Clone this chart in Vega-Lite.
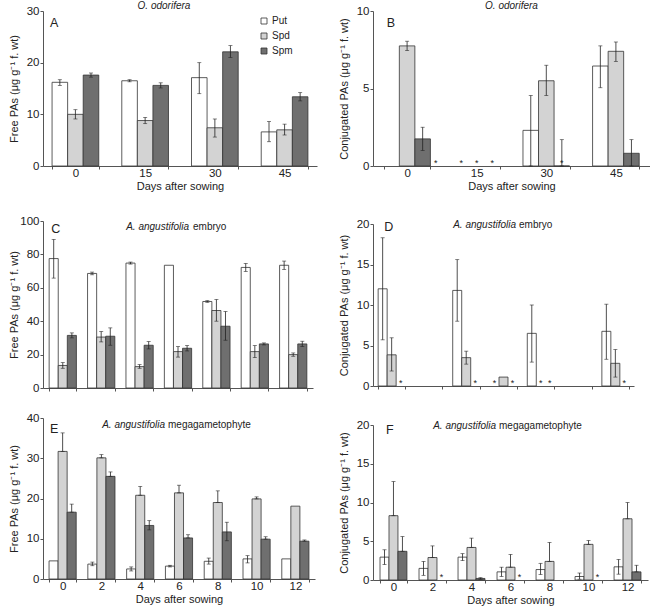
{
  "$schema": "https://vega.github.io/schema/vega-lite/v6.json",
  "padding": {"left": 8, "top": 1, "right": 0, "bottom": 0},
  "background": "white",
  "config": {
    "font": "Liberation Sans",
    "view": {"stroke": null},
    "axis": {"grid": false, "labelFontSize": 11.5, "titleFontSize": 11, "titleFontWeight": "normal", "labelColor": "#222", "titleColor": "#222", "domainColor": "#555", "tickColor": "#555", "tickSize": 3, "labelPadding": 1},
    "axisX": {"labelAngle": 0, "tickBand": "extent", "titlePadding": 2, "labelPadding": -2},
    "axisY": {"minExtent": 22, "maxExtent": 22, "titlePadding": 2},
    "text": {"color": "#222"},
    "title": {"fontSize": 10, "fontStyle": "italic", "fontWeight": "normal", "color": "#222", "frame": "group", "anchor": "middle"},
    "bar": {"stroke": "#333", "strokeWidth": 0.8},
    "rule": {"color": "#222", "strokeWidth": 0.8},
    "tick": {"color": "#222", "thickness": 0.8, "size": 4}
  },
  "datasets": {
    "A": [
      {"day": 0, "series": "Put", "value": 16.2, "lo": 15.6, "hi": 16.7},
      {"day": 0, "series": "Spd", "value": 10.0, "lo": 9.1, "hi": 10.9},
      {"day": 0, "series": "Spm", "value": 17.6, "lo": 17.2, "hi": 18.0},
      {"day": 15, "series": "Put", "value": 16.5, "lo": 16.3, "hi": 16.7},
      {"day": 15, "series": "Spd", "value": 8.8, "lo": 8.2, "hi": 9.4},
      {"day": 15, "series": "Spm", "value": 15.6, "lo": 15.1, "hi": 16.1},
      {"day": 30, "series": "Put", "value": 17.1, "lo": 14.0, "hi": 20.0},
      {"day": 30, "series": "Spd", "value": 7.4, "lo": 5.6, "hi": 9.1},
      {"day": 30, "series": "Spm", "value": 22.1, "lo": 21.0, "hi": 23.3},
      {"day": 45, "series": "Put", "value": 6.6, "lo": 4.7, "hi": 8.6},
      {"day": 45, "series": "Spd", "value": 7.0, "lo": 6.0, "hi": 8.1},
      {"day": 45, "series": "Spm", "value": 13.4, "lo": 12.6, "hi": 14.2}
    ],
    "B": [
      {"day": 0, "series": "Spd", "value": 7.75, "lo": 7.45, "hi": 8.05},
      {"day": 0, "series": "Spm", "value": 1.75, "lo": 1.0, "hi": 2.5},
      {"day": 30, "series": "Put", "value": 2.3, "lo": 0, "hi": 4.55},
      {"day": 30, "series": "Spd", "value": 5.5, "lo": 4.55, "hi": 6.5},
      {"day": 30, "series": "Spm", "value": 0, "lo": 0, "hi": 1.7},
      {"day": 45, "series": "Put", "value": 6.45, "lo": 5.05, "hi": 7.75},
      {"day": 45, "series": "Spd", "value": 7.4, "lo": 6.75, "hi": 8.0},
      {"day": 45, "series": "Spm", "value": 0.82, "lo": 0, "hi": 1.7}
    ],
    "Bstar": [
      {"day": 15, "series": "Put"},
      {"day": 15, "series": "Spd"},
      {"day": 15, "series": "Spm"},
      {"day": 30, "series": "Spm"}
    ],
    "Bstar2": [
      {"day": 0, "series": "Spm"}
    ],
    "C": [
      {"day": 0, "series": "Put", "value": 77.5, "lo": 65.8, "hi": 89.0},
      {"day": 0, "series": "Spd", "value": 13.5, "lo": 11.8, "hi": 15.2},
      {"day": 0, "series": "Spm", "value": 31.5, "lo": 30.0, "hi": 33.0},
      {"day": 2, "series": "Put", "value": 68.6, "lo": 67.8, "hi": 69.4},
      {"day": 2, "series": "Spd", "value": 30.5, "lo": 27.6, "hi": 33.8},
      {"day": 2, "series": "Spm", "value": 31.0, "lo": 25.6, "hi": 36.0},
      {"day": 4, "series": "Put", "value": 74.8, "lo": 74.2, "hi": 75.4},
      {"day": 4, "series": "Spd", "value": 12.8, "lo": 11.8, "hi": 14.0},
      {"day": 4, "series": "Spm", "value": 25.6, "lo": 23.4, "hi": 27.8},
      {"day": 6, "series": "Put", "value": 73.5},
      {"day": 6, "series": "Spd", "value": 21.8, "lo": 18.5, "hi": 24.8},
      {"day": 6, "series": "Spm", "value": 23.8, "lo": 22.2, "hi": 25.4},
      {"day": 8, "series": "Put", "value": 51.8, "lo": 51.3, "hi": 52.3},
      {"day": 8, "series": "Spd", "value": 46.4, "lo": 40.0, "hi": 53.0},
      {"day": 8, "series": "Spm", "value": 37.0, "lo": 28.6, "hi": 45.8},
      {"day": 10, "series": "Put", "value": 72.2, "lo": 69.8, "hi": 74.6},
      {"day": 10, "series": "Spd", "value": 21.8, "lo": 18.2, "hi": 25.4},
      {"day": 10, "series": "Spm", "value": 26.4, "lo": 25.8, "hi": 27.0},
      {"day": 12, "series": "Put", "value": 73.5, "lo": 71.0, "hi": 76.0},
      {"day": 12, "series": "Spd", "value": 20.0, "lo": 19.0, "hi": 21.0},
      {"day": 12, "series": "Spm", "value": 26.4, "lo": 24.8, "hi": 28.0}
    ],
    "D": [
      {"day": 0, "series": "Put", "value": 12.0, "lo": 5.7, "hi": 18.3},
      {"day": 0, "series": "Spd", "value": 3.85, "lo": 1.85, "hi": 5.95},
      {"day": 4, "series": "Put", "value": 11.8, "lo": 8.0, "hi": 15.6},
      {"day": 4, "series": "Spd", "value": 3.5, "lo": 2.7, "hi": 4.3},
      {"day": 6, "series": "Spd", "value": 1.1},
      {"day": 8, "series": "Put", "value": 6.5, "lo": 2.95, "hi": 10.0},
      {"day": 12, "series": "Put", "value": 6.75, "lo": 3.3, "hi": 10.1},
      {"day": 12, "series": "Spd", "value": 2.8, "lo": 1.1, "hi": 4.5}
    ],
    "Dstar": [
      {"day": 0, "series": "Spm"},
      {"day": 4, "series": "Spm"},
      {"day": 6, "series": "Put"},
      {"day": 6, "series": "Spm"},
      {"day": 8, "series": "Spd"},
      {"day": 8, "series": "Spm"},
      {"day": 12, "series": "Spm"}
    ],
    "E": [
      {"day": 0, "series": "Put", "value": 4.5},
      {"day": 0, "series": "Spd", "value": 31.7, "lo": 31.7, "hi": 36.3},
      {"day": 0, "series": "Spm", "value": 16.6, "lo": 16.6, "hi": 18.6},
      {"day": 2, "series": "Put", "value": 3.7, "lo": 3.3, "hi": 4.2},
      {"day": 2, "series": "Spd", "value": 30.1, "lo": 30.1, "hi": 30.9},
      {"day": 2, "series": "Spm", "value": 25.5, "lo": 25.5, "hi": 26.6},
      {"day": 4, "series": "Put", "value": 2.5, "lo": 2.0, "hi": 3.0},
      {"day": 4, "series": "Spd", "value": 20.8, "lo": 20.8, "hi": 23.0},
      {"day": 4, "series": "Spm", "value": 13.3, "lo": 12.2, "hi": 14.5},
      {"day": 6, "series": "Put", "value": 3.2, "lo": 3.0, "hi": 3.4},
      {"day": 6, "series": "Spd", "value": 21.4, "lo": 21.4, "hi": 23.3},
      {"day": 6, "series": "Spm", "value": 10.2, "lo": 10.2, "hi": 11.0},
      {"day": 8, "series": "Put", "value": 4.4, "lo": 3.7, "hi": 5.2},
      {"day": 8, "series": "Spd", "value": 19.0, "lo": 19.0, "hi": 21.9},
      {"day": 8, "series": "Spm", "value": 11.7, "lo": 9.5, "hi": 14.1},
      {"day": 10, "series": "Put", "value": 5.0, "lo": 4.0, "hi": 5.8},
      {"day": 10, "series": "Spd", "value": 19.9, "lo": 19.9, "hi": 20.4},
      {"day": 10, "series": "Spm", "value": 9.9, "lo": 9.9, "hi": 10.5},
      {"day": 12, "series": "Put", "value": 5.0},
      {"day": 12, "series": "Spd", "value": 18.1},
      {"day": 12, "series": "Spm", "value": 9.4, "lo": 9.4, "hi": 9.7}
    ],
    "F": [
      {"day": 0, "series": "Put", "value": 2.95, "lo": 2.0, "hi": 3.9},
      {"day": 0, "series": "Spd", "value": 8.3, "lo": 8.3, "hi": 12.7},
      {"day": 0, "series": "Spm", "value": 3.7, "lo": 3.7, "hi": 5.6},
      {"day": 2, "series": "Put", "value": 1.5, "lo": 0.6, "hi": 2.4},
      {"day": 2, "series": "Spd", "value": 2.9, "lo": 2.9, "hi": 4.4},
      {"day": 4, "series": "Put", "value": 2.95, "lo": 2.5, "hi": 3.4},
      {"day": 4, "series": "Spd", "value": 4.2, "lo": 4.2, "hi": 5.4},
      {"day": 4, "series": "Spm", "value": 0.2, "lo": 0.1, "hi": 0.3},
      {"day": 6, "series": "Put", "value": 1.05, "lo": 0.45, "hi": 1.65},
      {"day": 6, "series": "Spd", "value": 1.65, "lo": 1.65, "hi": 3.3},
      {"day": 8, "series": "Put", "value": 1.35, "lo": 0.7, "hi": 2.15},
      {"day": 8, "series": "Spd", "value": 2.4, "lo": 2.4, "hi": 4.85},
      {"day": 10, "series": "Put", "value": 0.45, "lo": 0.1, "hi": 0.9},
      {"day": 10, "series": "Spd", "value": 4.6, "lo": 4.6, "hi": 5.1},
      {"day": 12, "series": "Put", "value": 1.7, "lo": 0.75, "hi": 2.65},
      {"day": 12, "series": "Spd", "value": 7.9, "lo": 7.9, "hi": 10.0},
      {"day": 12, "series": "Spm", "value": 1.05, "lo": 1.05, "hi": 1.9}
    ],
    "Fstar": [
      {"day": 2, "series": "Spm"},
      {"day": 6, "series": "Spm"},
      {"day": 10, "series": "Spm"}
    ]
  },
  "spacing": 21,
  "resolve": {"scale": {"fill": "independent", "xOffset": "independent"}, "legend": {"fill": "independent"}},
  "hconcat": [
    {
      "spacing": 23,
      "resolve": {"scale": {"fill": "independent", "xOffset": "independent"}, "legend": {"fill": "independent"}},
      "vconcat": [
        {
          "width": 274, "height": 155,
          "title": {"text": "O. odorifera", "offset": -6, "dx": -16},
          "encoding": {"x": {"field": "day", "type": "ordinal", "title": "Days after sowing", "scale": {"domain": [0, 15, 30, 45], "paddingInner": 0.33, "paddingOuter": 0.13}}},
          "layer": [
            {"data": {"name": "A"}, "mark": "bar", "encoding": {
              "xOffset": {"field": "series", "type": "nominal", "scale": {"domain": ["Put", "Spd", "Spm"]}},
              "y": {"field": "value", "type": "quantitative", "title": "Free PAs (μg g⁻¹ f. wt)", "scale": {"domain": [0, 30], "nice": false}, "axis": {"values": [0, 10, 20, 30]}},
              "fill": {"field": "series", "type": "nominal", "scale": {"domain": ["Put", "Spd", "Spm"], "range": ["#ffffff", "#d3d3d3", "#6f6f6f"]},
                "legend": {"title": null, "orient": "none", "legendX": 216, "legendY": 5, "symbolType": "square", "symbolSize": 36, "symbolStrokeColor": "#333", "symbolStrokeWidth": 0.8, "labelFontSize": 10, "rowPadding": 5, "padding": 0, "labelOffset": 3, "labelColor": "#222"}}
            }},
            {"data": {"name": "A"}, "transform": [{"filter": "isValid(datum.hi)"}], "mark": "rule", "encoding": {
              "xOffset": {"field": "series", "type": "nominal"},
              "y": {"field": "lo", "type": "quantitative", "title": "Free PAs (μg g⁻¹ f. wt)", "axis": {"values": [0, 10, 20, 30]}}, "y2": {"field": "hi"}}},
            {"data": {"name": "A"}, "transform": [{"filter": "isValid(datum.hi)"}], "mark": "tick", "encoding": {
              "xOffset": {"field": "series", "type": "nominal"},
              "y": {"field": "hi", "type": "quantitative", "title": "Free PAs (μg g⁻¹ f. wt)", "axis": {"values": [0, 10, 20, 30]}}}},
            {"data": {"name": "A"}, "transform": [{"filter": "isValid(datum.hi)"}], "mark": "tick", "encoding": {
              "xOffset": {"field": "series", "type": "nominal"},
              "y": {"field": "lo", "type": "quantitative", "title": "Free PAs (μg g⁻¹ f. wt)", "axis": {"values": [0, 10, 20, 30]}}}},
            {"data": {"values": [{}]}, "mark": {"type": "text", "text": "A", "fontSize": 12.5, "align": "left", "baseline": "middle", "dx": -2}, "encoding": {
              "x": {"datum": 0, "type": "ordinal", "bandPosition": 0, "title": "Days after sowing"},
              "y": {"datum": 27.7, "type": "quantitative", "title": "Free PAs (μg g⁻¹ f. wt)", "axis": {"values": [0, 10, 20, 30]}}}}
          ]
        },
        {
          "spacing": 18,
          "resolve": {"scale": {"fill": "independent", "xOffset": "independent"}, "legend": {"fill": "independent"}},
          "vconcat": [
            {
              "width": 270, "height": 167,
              "encoding": {"x": {"field": "day", "type": "ordinal", "title": null, "scale": {"domain": [0, 2, 4, 6, 8, 10, 12], "paddingInner": 0.29, "paddingOuter": 0.16}, "axis": {"labels": false}}},
              "layer": [
                {"data": {"name": "C"}, "mark": "bar", "encoding": {
                  "xOffset": {"field": "series", "type": "nominal", "scale": {"domain": ["Put", "Spd", "Spm"]}},
                  "y": {"field": "value", "type": "quantitative", "title": "Free PAs (μg g⁻¹ f. wt)", "scale": {"domain": [0, 100], "nice": false}, "axis": {"values": [0, 20, 40, 60, 80, 100]}},
                  "fill": {"field": "series", "type": "nominal", "scale": {"domain": ["Put", "Spd", "Spm"], "range": ["#ffffff", "#d3d3d3", "#6f6f6f"]}, "legend": null}
                }},
                {"data": {"name": "C"}, "transform": [{"filter": "isValid(datum.hi)"}], "mark": "rule", "encoding": {
                  "xOffset": {"field": "series", "type": "nominal"},
                  "y": {"field": "lo", "type": "quantitative", "title": "Free PAs (μg g⁻¹ f. wt)", "axis": {"values": [0, 20, 40, 60, 80, 100]}}, "y2": {"field": "hi"}}},
                {"data": {"name": "C"}, "transform": [{"filter": "isValid(datum.hi)"}], "mark": "tick", "encoding": {
                  "xOffset": {"field": "series", "type": "nominal"},
                  "y": {"field": "hi", "type": "quantitative", "title": "Free PAs (μg g⁻¹ f. wt)", "axis": {"values": [0, 20, 40, 60, 80, 100]}}}},
                {"data": {"name": "C"}, "transform": [{"filter": "isValid(datum.hi)"}], "mark": "tick", "encoding": {
                  "xOffset": {"field": "series", "type": "nominal"},
                  "y": {"field": "lo", "type": "quantitative", "title": "Free PAs (μg g⁻¹ f. wt)", "axis": {"values": [0, 20, 40, 60, 80, 100]}}}},
                {"data": {"values": [{}]}, "mark": {"type": "text", "text": "C", "fontSize": 12.5, "align": "left", "baseline": "middle", "dx": 2}, "encoding": {
                  "x": {"datum": 0, "type": "ordinal", "bandPosition": 0, "title": null},
                  "y": {"datum": 95.4, "type": "quantitative", "title": "Free PAs (μg g⁻¹ f. wt)", "axis": {"values": [0, 20, 40, 60, 80, 100]}}}},
                {"data": {"values": [{}]}, "mark": {"type": "text", "text": "A. angustifolia", "fontSize": 10, "fontStyle": "italic", "align": "right", "baseline": "middle", "dx": 11}, "encoding": {
                  "x": {"datum": 6, "type": "ordinal", "title": null},
                  "y": {"datum": 96.4, "type": "quantitative", "title": "Free PAs (μg g⁻¹ f. wt)", "axis": {"values": [0, 20, 40, 60, 80, 100]}}}},
                {"data": {"values": [{}]}, "mark": {"type": "text", "text": "embryo", "fontSize": 10, "align": "left", "baseline": "middle", "dx": 15}, "encoding": {
                  "x": {"datum": 6, "type": "ordinal", "title": null},
                  "y": {"datum": 96.4, "type": "quantitative", "title": "Free PAs (μg g⁻¹ f. wt)", "axis": {"values": [0, 20, 40, 60, 80, 100]}}}}
              ]
            },
            {
              "width": 272, "height": 161,
              "encoding": {"x": {"field": "day", "type": "ordinal", "title": "Days after sowing", "scale": {"domain": [0, 2, 4, 6, 8, 10, 12], "paddingInner": 0.3, "paddingOuter": 0.156}}},
              "layer": [
                {"data": {"name": "E"}, "mark": "bar", "encoding": {
                  "xOffset": {"field": "series", "type": "nominal", "scale": {"domain": ["Put", "Spd", "Spm"]}},
                  "y": {"field": "value", "type": "quantitative", "title": "Free PAs (μg g⁻¹ f. wt)", "scale": {"domain": [0, 40], "nice": false}, "axis": {"values": [0, 10, 20, 30, 40]}},
                  "fill": {"field": "series", "type": "nominal", "scale": {"domain": ["Put", "Spd", "Spm"], "range": ["#ffffff", "#d3d3d3", "#6f6f6f"]}, "legend": null}
                }},
                {"data": {"name": "E"}, "transform": [{"filter": "isValid(datum.hi)"}], "mark": "rule", "encoding": {
                  "xOffset": {"field": "series", "type": "nominal"},
                  "y": {"field": "lo", "type": "quantitative", "title": "Free PAs (μg g⁻¹ f. wt)", "axis": {"values": [0, 10, 20, 30, 40]}}, "y2": {"field": "hi"}}},
                {"data": {"name": "E"}, "transform": [{"filter": "isValid(datum.hi)"}], "mark": "tick", "encoding": {
                  "xOffset": {"field": "series", "type": "nominal"},
                  "y": {"field": "hi", "type": "quantitative", "title": "Free PAs (μg g⁻¹ f. wt)", "axis": {"values": [0, 10, 20, 30, 40]}}}},
                {"data": {"name": "E"}, "transform": [{"filter": "isValid(datum.hi)"}], "mark": "tick", "encoding": {
                  "xOffset": {"field": "series", "type": "nominal"},
                  "y": {"field": "lo", "type": "quantitative", "title": "Free PAs (μg g⁻¹ f. wt)", "axis": {"values": [0, 10, 20, 30, 40]}}}},
                {"data": {"values": [{}]}, "mark": {"type": "text", "text": "E", "fontSize": 12.5, "align": "left", "baseline": "middle", "dx": 1}, "encoding": {
                  "x": {"datum": 0, "type": "ordinal", "bandPosition": 0, "title": "Days after sowing"},
                  "y": {"datum": 37.3, "type": "quantitative", "title": "Free PAs (μg g⁻¹ f. wt)", "axis": {"values": [0, 10, 20, 30, 40]}}}},
                {"data": {"values": [{}]}, "mark": {"type": "text", "text": "A. angustifolia", "fontSize": 10, "fontStyle": "italic", "align": "right", "baseline": "middle", "dx": -14}, "encoding": {
                  "x": {"datum": 6, "type": "ordinal", "title": "Days after sowing"},
                  "y": {"datum": 38.3, "type": "quantitative", "title": "Free PAs (μg g⁻¹ f. wt)", "axis": {"values": [0, 10, 20, 30, 40]}}}},
                {"data": {"values": [{}]}, "mark": {"type": "text", "text": "megagametophyte", "fontSize": 10, "align": "left", "baseline": "middle", "dx": -11}, "encoding": {
                  "x": {"datum": 6, "type": "ordinal", "title": "Days after sowing"},
                  "y": {"datum": 38.3, "type": "quantitative", "title": "Free PAs (μg g⁻¹ f. wt)", "axis": {"values": [0, 10, 20, 30, 40]}}}}
              ]
            }
          ]
        }
      ]
    },
    {
      "spacing": 26,
      "resolve": {"scale": {"fill": "independent", "xOffset": "independent"}, "legend": {"fill": "independent"}},
      "vconcat": [
        {
          "width": 277, "height": 155,
          "title": {"text": "O. odorifera", "offset": -6},
          "encoding": {"x": {"field": "day", "type": "ordinal", "title": "Days after sowing", "scale": {"domain": [0, 15, 30, 45], "paddingInner": 0.33, "paddingOuter": 0.155}}},
          "layer": [
            {"data": {"name": "B"}, "mark": "bar", "encoding": {
              "xOffset": {"field": "series", "type": "nominal", "scale": {"domain": ["Put", "Spd", "Spm"]}},
              "y": {"field": "value", "type": "quantitative", "title": "Conjugated PAs (μg g⁻¹ f. wt)", "scale": {"domain": [0, 10], "nice": false}, "axis": {"values": [0, 5, 10]}},
              "fill": {"field": "series", "type": "nominal", "scale": {"domain": ["Put", "Spd", "Spm"], "range": ["#ffffff", "#d3d3d3", "#6f6f6f"]}, "legend": null}
            }},
            {"data": {"name": "B"}, "transform": [{"filter": "isValid(datum.hi)"}], "mark": "rule", "encoding": {
              "xOffset": {"field": "series", "type": "nominal"},
              "y": {"field": "lo", "type": "quantitative", "title": "Conjugated PAs (μg g⁻¹ f. wt)", "axis": {"values": [0, 5, 10]}}, "y2": {"field": "hi"}}},
            {"data": {"name": "B"}, "transform": [{"filter": "isValid(datum.hi)"}], "mark": "tick", "encoding": {
              "xOffset": {"field": "series", "type": "nominal"},
              "y": {"field": "hi", "type": "quantitative", "title": "Conjugated PAs (μg g⁻¹ f. wt)", "axis": {"values": [0, 5, 10]}}}},
            {"data": {"name": "B"}, "transform": [{"filter": "isValid(datum.hi)"}], "mark": "tick", "encoding": {
              "xOffset": {"field": "series", "type": "nominal"},
              "y": {"field": "lo", "type": "quantitative", "title": "Conjugated PAs (μg g⁻¹ f. wt)", "axis": {"values": [0, 5, 10]}}}},
            {"data": {"name": "Bstar"}, "mark": {"type": "text", "text": "*", "fontSize": 9, "baseline": "alphabetic", "align": "center"}, "encoding": {
              "xOffset": {"field": "series", "type": "nominal"},
              "y": {"datum": 0, "type": "quantitative", "title": "Conjugated PAs (μg g⁻¹ f. wt)", "axis": {"values": [0, 5, 10]}}}},
            {"data": {"name": "Bstar2"}, "mark": {"type": "text", "text": "*", "fontSize": 9, "baseline": "alphabetic", "align": "center", "dx": 13}, "encoding": {
              "xOffset": {"field": "series", "type": "nominal"},
              "y": {"datum": 0, "type": "quantitative", "title": "Conjugated PAs (μg g⁻¹ f. wt)", "axis": {"values": [0, 5, 10]}}}},
            {"data": {"values": [{}]}, "mark": {"type": "text", "text": "B", "fontSize": 12.5, "align": "left", "baseline": "middle", "dx": 3}, "encoding": {
              "x": {"datum": 0, "type": "ordinal", "bandPosition": 0, "title": "Days after sowing"},
              "y": {"datum": 9.2, "type": "quantitative", "title": "Conjugated PAs (μg g⁻¹ f. wt)", "axis": {"values": [0, 5, 10]}}}}
          ]
        },
        {
          "spacing": 27,
          "resolve": {"scale": {"fill": "independent", "xOffset": "independent"}, "legend": {"fill": "independent"}},
          "vconcat": [
            {
              "width": 261, "height": 162,
              "encoding": {"x": {"field": "day", "type": "ordinal", "title": null, "scale": {"domain": [0, 2, 4, 6, 8, 10, 12], "paddingInner": 0.276, "paddingOuter": 0.138}, "axis": {"labels": false}}},
              "layer": [
                {"data": {"name": "D"}, "mark": "bar", "encoding": {
                  "xOffset": {"field": "series", "type": "nominal", "scale": {"domain": ["Put", "Spd", "Spm"]}},
                  "y": {"field": "value", "type": "quantitative", "title": "Conjugated PAs (μg g⁻¹ f. wt)", "scale": {"domain": [0, 20], "nice": false}, "axis": {"values": [0, 5, 10, 15, 20]}},
                  "fill": {"field": "series", "type": "nominal", "scale": {"domain": ["Put", "Spd", "Spm"], "range": ["#ffffff", "#d3d3d3", "#6f6f6f"]}, "legend": null}
                }},
                {"data": {"name": "D"}, "transform": [{"filter": "isValid(datum.hi)"}], "mark": "rule", "encoding": {
                  "xOffset": {"field": "series", "type": "nominal"},
                  "y": {"field": "lo", "type": "quantitative", "title": "Conjugated PAs (μg g⁻¹ f. wt)", "axis": {"values": [0, 5, 10, 15, 20]}}, "y2": {"field": "hi"}}},
                {"data": {"name": "D"}, "transform": [{"filter": "isValid(datum.hi)"}], "mark": "tick", "encoding": {
                  "xOffset": {"field": "series", "type": "nominal"},
                  "y": {"field": "hi", "type": "quantitative", "title": "Conjugated PAs (μg g⁻¹ f. wt)", "axis": {"values": [0, 5, 10, 15, 20]}}}},
                {"data": {"name": "D"}, "transform": [{"filter": "isValid(datum.hi)"}], "mark": "tick", "encoding": {
                  "xOffset": {"field": "series", "type": "nominal"},
                  "y": {"field": "lo", "type": "quantitative", "title": "Conjugated PAs (μg g⁻¹ f. wt)", "axis": {"values": [0, 5, 10, 15, 20]}}}},
                {"data": {"name": "Dstar"}, "mark": {"type": "text", "text": "*", "fontSize": 9, "baseline": "alphabetic", "align": "center"}, "encoding": {
                  "xOffset": {"field": "series", "type": "nominal"},
                  "y": {"datum": 0, "type": "quantitative", "title": "Conjugated PAs (μg g⁻¹ f. wt)", "axis": {"values": [0, 5, 10, 15, 20]}}}},
                {"data": {"values": [{}]}, "mark": {"type": "text", "text": "D", "fontSize": 12.5, "align": "left", "baseline": "middle", "dx": 6}, "encoding": {
                  "x": {"datum": 0, "type": "ordinal", "bandPosition": 0, "title": null},
                  "y": {"datum": 19.6, "type": "quantitative", "title": "Conjugated PAs (μg g⁻¹ f. wt)", "axis": {"values": [0, 5, 10, 15, 20]}}}},
                {"data": {"values": [{}]}, "mark": {"type": "text", "text": "A. angustifolia", "fontSize": 10, "fontStyle": "italic", "align": "right", "baseline": "middle", "dx": 12.5}, "encoding": {
                  "x": {"datum": 6, "type": "ordinal", "title": null},
                  "y": {"datum": 19.85, "type": "quantitative", "title": "Conjugated PAs (μg g⁻¹ f. wt)", "axis": {"values": [0, 5, 10, 15, 20]}}}},
                {"data": {"values": [{}]}, "mark": {"type": "text", "text": "embryo", "fontSize": 10, "align": "left", "baseline": "middle", "dx": 15.5}, "encoding": {
                  "x": {"datum": 6, "type": "ordinal", "title": null},
                  "y": {"datum": 19.85, "type": "quantitative", "title": "Conjugated PAs (μg g⁻¹ f. wt)", "axis": {"values": [0, 5, 10, 15, 20]}}}}
              ]
            },
            {
              "width": 275, "height": 155,
              "encoding": {"x": {"field": "day", "type": "ordinal", "title": "Days after sowing", "scale": {"domain": [0, 2, 4, 6, 8, 10, 12], "paddingInner": 0.31, "paddingOuter": 0.18}}},
              "layer": [
                {"data": {"name": "F"}, "mark": "bar", "encoding": {
                  "xOffset": {"field": "series", "type": "nominal", "scale": {"domain": ["Put", "Spd", "Spm"]}},
                  "y": {"field": "value", "type": "quantitative", "title": "Conjugated PAs (μg g⁻¹ f. wt)", "scale": {"domain": [0, 20], "nice": false}, "axis": {"values": [0, 5, 10, 15, 20]}},
                  "fill": {"field": "series", "type": "nominal", "scale": {"domain": ["Put", "Spd", "Spm"], "range": ["#ffffff", "#d3d3d3", "#6f6f6f"]}, "legend": null}
                }},
                {"data": {"name": "F"}, "transform": [{"filter": "isValid(datum.hi)"}], "mark": "rule", "encoding": {
                  "xOffset": {"field": "series", "type": "nominal"},
                  "y": {"field": "lo", "type": "quantitative", "title": "Conjugated PAs (μg g⁻¹ f. wt)", "axis": {"values": [0, 5, 10, 15, 20]}}, "y2": {"field": "hi"}}},
                {"data": {"name": "F"}, "transform": [{"filter": "isValid(datum.hi)"}], "mark": "tick", "encoding": {
                  "xOffset": {"field": "series", "type": "nominal"},
                  "y": {"field": "hi", "type": "quantitative", "title": "Conjugated PAs (μg g⁻¹ f. wt)", "axis": {"values": [0, 5, 10, 15, 20]}}}},
                {"data": {"name": "F"}, "transform": [{"filter": "isValid(datum.hi)"}], "mark": "tick", "encoding": {
                  "xOffset": {"field": "series", "type": "nominal"},
                  "y": {"field": "lo", "type": "quantitative", "title": "Conjugated PAs (μg g⁻¹ f. wt)", "axis": {"values": [0, 5, 10, 15, 20]}}}},
                {"data": {"name": "Fstar"}, "mark": {"type": "text", "text": "*", "fontSize": 9, "baseline": "alphabetic", "align": "center"}, "encoding": {
                  "xOffset": {"field": "series", "type": "nominal"},
                  "y": {"datum": 0, "type": "quantitative", "title": "Conjugated PAs (μg g⁻¹ f. wt)", "axis": {"values": [0, 5, 10, 15, 20]}}}},
                {"data": {"values": [{}]}, "mark": {"type": "text", "text": "F", "fontSize": 12.5, "align": "left", "baseline": "middle", "dx": 6}, "encoding": {
                  "x": {"datum": 0, "type": "ordinal", "bandPosition": 0, "title": "Days after sowing"},
                  "y": {"datum": 19.4, "type": "quantitative", "title": "Conjugated PAs (μg g⁻¹ f. wt)", "axis": {"values": [0, 5, 10, 15, 20]}}}},
                {"data": {"values": [{}]}, "mark": {"type": "text", "text": "A. angustifolia", "fontSize": 10, "fontStyle": "italic", "align": "right", "baseline": "middle", "dx": -14.5}, "encoding": {
                  "x": {"datum": 6, "type": "ordinal", "title": "Days after sowing"},
                  "y": {"datum": 19.9, "type": "quantitative", "title": "Conjugated PAs (μg g⁻¹ f. wt)", "axis": {"values": [0, 5, 10, 15, 20]}}}},
                {"data": {"values": [{}]}, "mark": {"type": "text", "text": "megagametophyte", "fontSize": 10, "align": "left", "baseline": "middle", "dx": -11.5}, "encoding": {
                  "x": {"datum": 6, "type": "ordinal", "title": "Days after sowing"},
                  "y": {"datum": 19.9, "type": "quantitative", "title": "Conjugated PAs (μg g⁻¹ f. wt)", "axis": {"values": [0, 5, 10, 15, 20]}}}}
              ]
            }
          ]
        }
      ]
    }
  ]
}
